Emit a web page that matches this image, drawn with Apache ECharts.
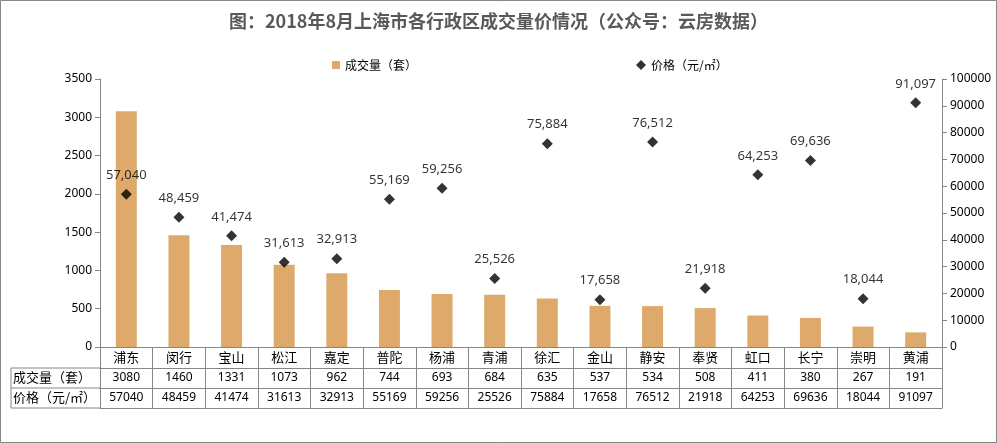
<!DOCTYPE html>
<html><head><meta charset="utf-8">
<script src="https://cdn.jsdelivr.net/npm/echarts@6/dist/echarts.min.js"></script>
<style>html,body{margin:0;padding:0;background:#fff}#c{width:997px;height:443px}</style>
</head><body><div id="c"></div>
<script>
const categories = ['浦东','闵行','宝山','松江','嘉定','普陀','杨浦','青浦','徐汇','金山','静安','奉贤','虹口','长宁','崇明','黄浦'];
const volumes = [3080,1460,1331,1073,962,744,693,684,635,537,534,508,411,380,267,191];
const prices = [57040,48459,41474,31613,32913,55169,59256,25526,75884,17658,76512,21918,64253,69636,18044,91097];
const volumeName = '成交量（套）';
const priceName = '价格（元/㎡）';
const titleText = '图：2018年8月上海市各行政区成交量价情况（公众号：云房数据）';

const W = 997, H = 443;
const GRID = {left:100, right:55, top:79, bottom:96};
const ROW_OFFSETS = [21, 41, 61];
const TABLE_LEFT = 11;
const gray = '#868686';
const font = '"Noto Sans", "Noto Sans CJK SC", sans-serif';
const cjk = '"Noto Sans CJK SC", "Noto Sans", sans-serif';

function fmt(n){ return String(n).replace(/\B(?=(\d{3})+(?!\d))/g, ','); }

const baseY = H - GRID.bottom;
const rowYs = ROW_OFFSETS.map(o => baseY + o);

function rowAxis(offset, values, name, showLabels){
  return {
    type:'category', data:categories, position:'bottom', offset:offset,
    axisLine:{show:true, onZero:false, lineStyle:{color:gray, width:1}},
    axisTick:{show:false}, splitLine:{show:false},
    axisLabel:{show:showLabels, interval:0, margin:4, color:'#000', fontSize:12, fontFamily:font,
      formatter:(v,i)=> values ? String(values[i]) : ''},
    name:name || '', nameLocation:'start', nameGap:GRID.left - TABLE_LEFT - 2,
    nameMoveOverlap:false,
    nameTextStyle:{align:'left', verticalAlign:'top', padding:[3,0,0,0], fontSize:13, color:'#000', fontFamily:cjk}
  };
}

const chart = echarts.init(document.getElementById('c'), null, {renderer:'canvas'});
chart.setOption({
  animation:false,
  backgroundColor:'#fff',
  title:{text:titleText, left:'center', top:12, padding:0,
    textStyle:{fontSize:18, fontWeight:'bold', color:'#595959', fontFamily:cjk}},
  legend:[
    {data:[volumeName], left:332, top:59, icon:'rect', itemWidth:8, itemHeight:8, padding:0,
      textStyle:{fontSize:12, color:'#000', fontFamily:cjk}},
    {data:[priceName], left:636, top:59, icon:'diamond', itemWidth:10, itemHeight:10, padding:0,
      textStyle:{fontSize:12, color:'#000', fontFamily:cjk}}
  ],
  grid:{left:GRID.left, right:GRID.right, top:GRID.top, bottom:GRID.bottom, containLabel:false, outerBoundsMode:'none'},
  xAxis:[
    {type:'category', data:categories, position:'bottom',
      axisLine:{show:true, onZero:false, lineStyle:{color:gray}},
      axisTick:{show:true, interval:0, length:ROW_OFFSETS[2], lineStyle:{color:gray}},
      axisLabel:{interval:0, margin:4, color:'#000', fontSize:13, fontFamily:cjk},
      splitLine:{show:false}},
    rowAxis(ROW_OFFSETS[0], volumes, volumeName, true),
    rowAxis(ROW_OFFSETS[1], prices, priceName, true),
    rowAxis(ROW_OFFSETS[2], null, '', false)
  ],
  yAxis:[
    {type:'value', min:0, max:3500, interval:500, position:'left',
      axisLine:{show:true, lineStyle:{color:gray}},
      axisTick:{show:true, length:5, lineStyle:{color:gray}},
      axisLabel:{margin:8, color:'#000', fontSize:12, fontFamily:font, formatter:v=>String(v)},
      splitLine:{show:false}},
    {type:'value', min:0, max:100000, interval:10000, position:'right',
      axisLine:{show:true, lineStyle:{color:gray}},
      axisTick:{show:true, length:5, lineStyle:{color:gray}},
      axisLabel:{margin:8, color:'#000', fontSize:12, fontFamily:font, formatter:v=>String(v)},
      splitLine:{show:false}}
  ],
  graphic:[
    {type:'rect', shape:{x:0.5, y:0.5, width:W-1, height:H-1}, style:{fill:'none', stroke:gray, lineWidth:1}, silent:true},
    {type:'polyline', shape:{points:[[GRID.left, rowYs[0]],[TABLE_LEFT, rowYs[0]],[TABLE_LEFT, rowYs[2]],[GRID.left, rowYs[2]]]},
      style:{fill:'none', stroke:gray, lineWidth:1}, silent:true},
    {type:'line', shape:{x1:TABLE_LEFT, y1:rowYs[1], x2:GRID.left, y2:rowYs[1]}, style:{stroke:gray, lineWidth:1}, silent:true}
  ],
  series:[
    {name:volumeName, type:'bar', xAxisIndex:0, yAxisIndex:0, data:volumes, barWidth:21,
      itemStyle:{color:'#DDAA6C'}},
    {name:priceName, type:'scatter', xAxisIndex:0, yAxisIndex:1, data:prices,
      symbol:'diamond', symbolSize:11, itemStyle:{color:'#000'},
      label:{show:true, position:'top', distance:7, color:'#000', fontSize:13, fontFamily:font,
        formatter:p=>fmt(p.value)}}
  ]
});
</script></body></html>
